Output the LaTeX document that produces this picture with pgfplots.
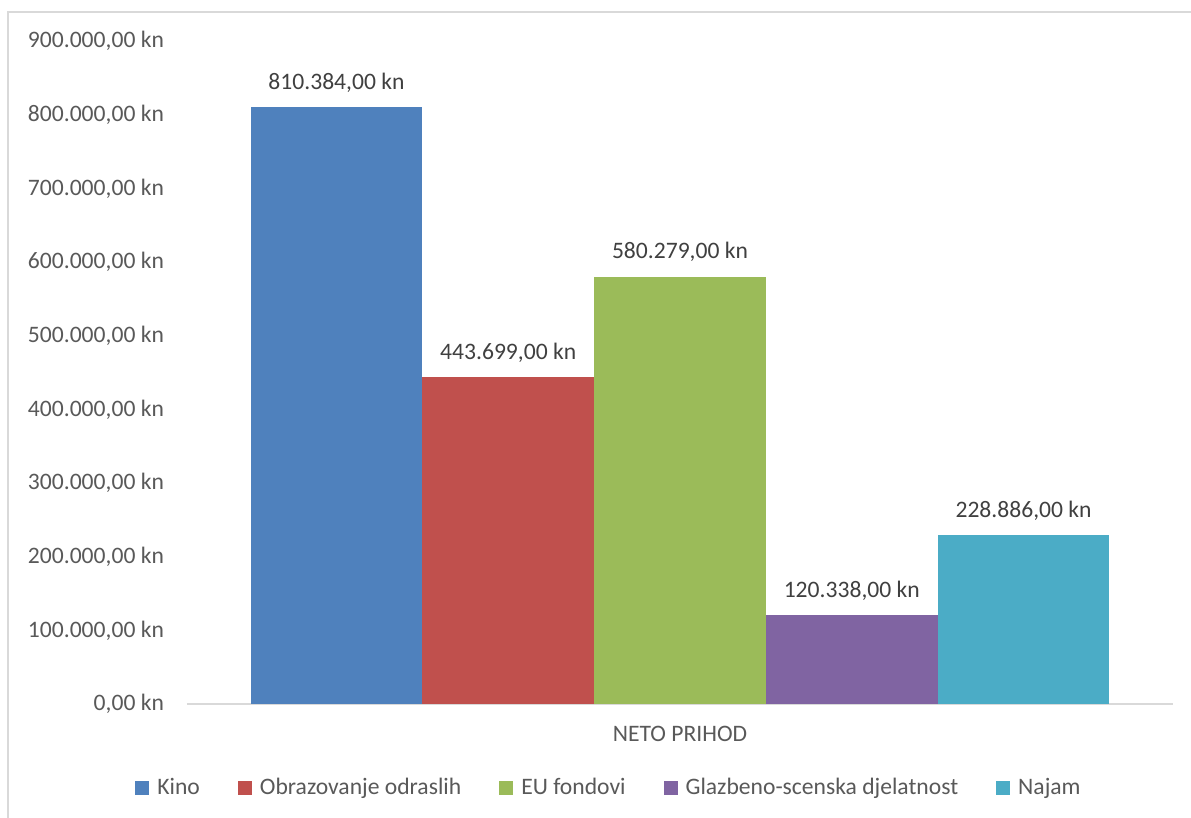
\documentclass[border=0pt]{standalone}
\usepackage{fontspec}
\setmainfont{Carlito}
\usepackage{pgfplots}
\pgfplotsset{compat=1.18}

\definecolor{kino}{HTML}{4F81BD}
\definecolor{obraz}{HTML}{C0504D}
\definecolor{eufond}{HTML}{9BBB59}
\definecolor{glazb}{HTML}{8064A2}
\definecolor{najam}{HTML}{4BACC6}
\definecolor{tickgray}{HTML}{595959}
\definecolor{labelgray}{HTML}{404040}
\definecolor{linegray}{HTML}{D9D9D9}

\newcommand{\chartfont}{\fontsize{11.8}{14}\selectfont}

\begin{document}
\begin{tikzpicture}
  % page = 1191 x 818 px at 0.5pt per px
  \path[use as bounding box] (0,0) rectangle (595.5pt,-409pt);
  \draw[linegray, line width=0.8pt] (4pt,-409pt) -- (4pt,-6pt) -- (595.5pt,-6pt);

  \begin{axis}[
      at={(93.5pt,-352pt)}, anchor=south west,
      scale only axis,
      width=493pt, height=331.5pt,
      ybar, bar width=0.2, bar shift=0pt,
      xmin=-0.574, xmax=0.574,
      ymin=0, ymax=900000,
      xtick={0}, xticklabels={NETO PRIHOD},
      ytick={0,100000,...,900000},
      scaled y ticks=false,
      axis x line*=bottom, axis y line*=left,
      y axis line style={draw=none},
      x axis line style={draw=linegray, line width=0.8pt},
      major tick length=0pt,
      /pgf/number format/.cd, fixed, fixed zerofill, precision=2,
        use comma, 1000 sep={.}, assume math mode=true,
      /pgfplots/.cd,
      yticklabel={\pgfmathprintnumber{\tick} kn},
      yticklabel style={font=\chartfont, text=tickgray, xshift=-8pt},
      xticklabel style={font=\chartfont, text=tickgray, yshift=-7.8pt},
      nodes near coords={\pgfmathprintnumber{\pgfplotspointmeta} kn},
      nodes near coords style={font=\chartfont, text=labelgray, anchor=south, yshift=3.8pt},
      legend columns=5,
      legend style={at={(0.429,-0.1267)}, anchor=center, draw=none,
        font=\chartfont, text=tickgray,
        /tikz/every odd column/.append style={column sep=2pt},
        /tikz/every even column/.append style={column sep=17pt}},
      legend image code/.code={\fill[#1, draw=none] (0pt,-3.5pt) rectangle (7pt,3.5pt);},
    ]
    \addplot[fill=kino, draw=none] coordinates {(-0.4, 810384)};
    \addplot[fill=obraz, draw=none] coordinates {(-0.2, 443699)};
    \addplot[fill=eufond, draw=none] coordinates {(0, 580279)};
    \addplot[fill=glazb, draw=none] coordinates {(0.2, 120338)};
    \addplot[fill=najam, draw=none] coordinates {(0.4, 228886)};
    \legend{Kino, Obrazovanje odraslih, EU fondovi, Glazbeno-scenska djelatnost, Najam}
  \end{axis}
\end{tikzpicture}
\end{document}
